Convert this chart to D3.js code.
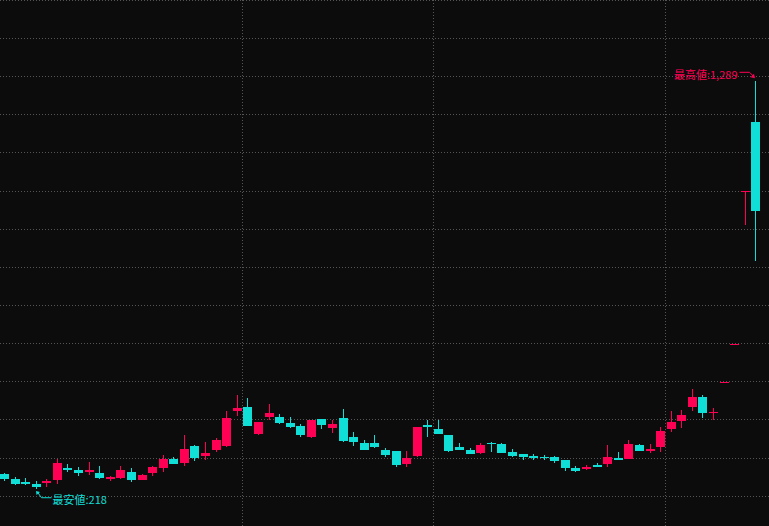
<!DOCTYPE html>
<html>
<head>
<meta charset="utf-8">
<script src="https://cdn.jsdelivr.net/npm/d3@7"></script>
<style>
  html, body { margin: 0; padding: 0; background: #0c0c0c; overflow: hidden; }
  svg { display: block; }
</style>
</head>
<body>
<div id="chart"></div>
<script>
// ---- data ----
const monthLengths = [23, 18, 22, 9];          // trading sessions per month segment
const openPrices  = [258,245,237,232,234,243,274,270,265,261,245,248,264,243,261,274,298,287,332,306,321,332,424,434,363,408,408,392,384,355,403,379,405,355,340,340,321,319,285,306,387,376,361,329,321,314,340,337,316,311,306,303,303,295,274,272,282,285,300,298,335,319,329,376,397,434,460,418,500,600,1000,1181];
const highPrices  = [262,251,248,240,245,298,285,277,290,279,254,279,274,258,279,308,303,361,335,342,353,424,466,458,395,442,416,408,390,400,403,400,429,369,348,361,327,319,319,382,400,400,361,340,327,340,342,340,324,311,311,308,306,295,279,282,287,335,316,348,337,337,382,424,426,481,466,431,500,600,1000,1289];
const lowPrices   = [241,230,230,218,224,233,264,253,256,245,241,245,238,243,253,264,285,279,293,295,316,329,411,384,361,400,390,379,355,353,376,366,342,332,321,327,303,277,277,303,355,363,316,321,311,311,316,314,303,295,295,295,288,266,264,269,277,277,295,298,319,314,316,369,379,424,405,400,500,600,911,818];
const closePrices = [245,233,233,224,239,287,269,261,270,248,251,269,243,256,277,298,285,324,300,314,348,405,431,384,395,418,392,382,361,400,387,390,345,342,321,329,308,282,300,382,382,363,319,321,311,335,337,314,306,303,300,300,293,274,266,277,277,303,295,337,319,324,371,395,413,460,418,421,500,600,1000,949];
const gridPrices  = [200,300,400,500,600,700,800,900,1000,1100,1200,1300,1400,1500];
const highLabel = "最高値:";
const lowLabel  = "最安値:";

// ---- build table ----
const sessions = [];
monthLengths.forEach((n, m) => { for (let k = 0; k < n; k++) sessions.push({ month: m, day: k }); });
const candles = sessions.map((s, i) => ({
  id: "s" + i, month: s.month,
  open: openPrices[i], high: highPrices[i], low: lowPrices[i], close: closePrices[i]
}));

const W = 769, H = 526;
const RED = "#ff0055", CYAN = "#10dfd8", GRID = "#555555";

const svg = d3.select("#chart").append("svg").attr("width", W).attr("height", H);
svg.append("rect").attr("width", W).attr("height", H).attr("fill", "#0c0c0c");

const x = d3.scaleBand().domain(candles.map(d => d.id)).range([-0.8, 761.2]).padding(0);
const y = d3.scaleLinear().domain([200, 1500]).range([496.3, 0.3]);
const crisp = v => Math.floor(v) + 0.5;

// horizontal grid
svg.append("g").selectAll("line").data(gridPrices).join("line")
  .attr("x1", 0).attr("x2", W)
  .attr("y1", d => crisp(y(d))).attr("y2", d => crisp(y(d)))
  .attr("stroke", GRID).attr("stroke-width", 1).attr("stroke-dasharray", "1,2");

// vertical separators at month starts
const starts = candles.filter((d, i) => i > 0 && d.month !== candles[i - 1].month);
svg.append("g").selectAll("line").data(starts).join("line")
  .attr("x1", d => crisp(x(d.id))).attr("x2", d => crisp(x(d.id)))
  .attr("y1", 0).attr("y2", H)
  .attr("stroke", GRID).attr("stroke-width", 1).attr("stroke-dasharray", "1,2");

const bw = 9;
const color = d => d.close >= d.open ? RED : CYAN;
const cx = d => x(d.id) + x.bandwidth() / 2;
const left = d => Math.round(cx(d) - bw / 2);

const g = svg.append("g");
g.selectAll("line.wick").data(candles).join("line").attr("class", "wick")
  .attr("x1", d => left(d) + 4.5).attr("x2", d => left(d) + 4.5)
  .attr("y1", d => Math.round(y(d.high))).attr("y2", d => Math.round(y(d.low)))
  .attr("stroke", color).attr("stroke-width", 1);
g.selectAll("rect.body").data(candles).join("rect").attr("class", "body")
  .attr("x", d => left(d)).attr("width", bw)
  .attr("y", d => Math.round(y(Math.max(d.open, d.close))))
  .attr("height", d => Math.max(1, Math.round(y(Math.min(d.open, d.close))) - Math.round(y(Math.max(d.open, d.close)))))
  .attr("fill", color);

// annotations
const fmt = d3.format(",");
const hi = candles.reduce((a, b) => b.high > a.high ? b : a);
const lo = candles.reduce((a, b) => b.low < a.low ? b : a);

const hx = left(hi) + 4.5, hy = y(hi.high);
const ag = svg.append("g");
ag.append("path")
  .attr("d", `M${hx - 16},${hy - 8.5}L${hx - 6},${hy - 8.5}L${hx - 2},${hy - 4.5}`)
  .attr("fill", "none").attr("stroke", RED).attr("stroke-width", 1);
ag.append("path")
  .attr("d", `M${hx - 0.5},${hy - 2.5}L${hx - 5},${hy - 3.5}L${hx - 1.5},${hy - 7}Z`)
  .attr("fill", RED);
ag.append("text").attr("x", hx - 18).attr("y", hy - 7).attr("text-anchor", "end")
  .attr("dominant-baseline", "central")
  .attr("font-family", "'Noto Sans CJK JP', sans-serif").attr("font-size", 11)
  .attr("fill", RED).text(highLabel + fmt(hi.high));

const lx = left(lo) + 4.5, ly = y(lo.low);
ag.append("path")
  .attr("d", `M${lx + 1.5},${ly + 3.5}L${lx + 5},${ly + 8.3}L${lx + 15},${ly + 8.3}`)
  .attr("fill", "none").attr("stroke", CYAN).attr("stroke-width", 1);
ag.append("path")
  .attr("d", `M${lx - 0.5},${ly + 1.5}L${lx + 3.5},${ly + 2.5}L${lx},${ly + 5.5}Z`)
  .attr("fill", CYAN);
ag.append("text").attr("x", lx + 16).attr("y", ly + 10)
  .attr("dominant-baseline", "central")
  .attr("font-family", "'Noto Sans CJK JP', sans-serif").attr("font-size", 11)
  .attr("fill", CYAN).text(lowLabel + fmt(lo.low));
</script>
</body>
</html>
